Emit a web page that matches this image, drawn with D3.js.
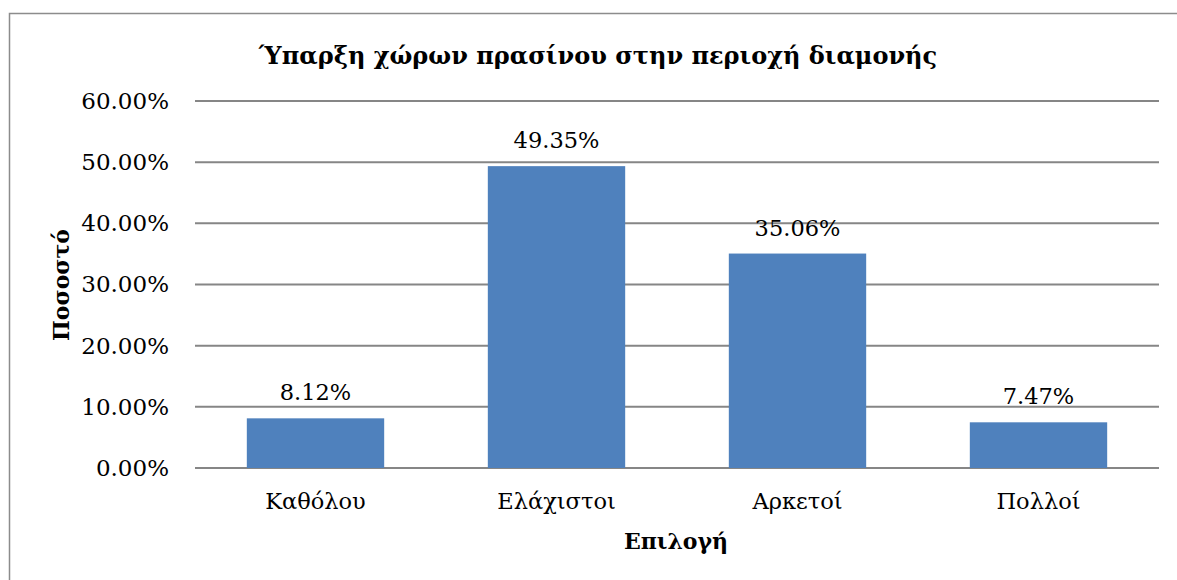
<!DOCTYPE html>
<html>
<head>
<meta charset="utf-8">
<script src="https://cdn.jsdelivr.net/npm/d3@7"></script>
<style>
  body { margin: 0; background: #fff; }
  svg { display: block; }
</style>
</head>
<body>
<svg id="chart" width="1177" height="580"></svg>
<script>
// Green space availability in area of residence
const categories = ["Καθόλου", "Ελάχιστοι", "Αρκετοί", "Πολλοί"];
const values = [8.12, 49.35, 35.06, 7.47];
const yTicks = [0, 10, 20, 30, 40, 50, 60];

const svg = d3.select("#chart");
const margin = { top: 101, right: 18, bottom: 112, left: 195 };
const width = 1177 - margin.left - margin.right;
const height = 580 - margin.top - margin.bottom;
const serif = "'DejaVu Serif', serif";

// chart frame
svg.append("rect")
  .attr("x", 9.5).attr("y", 13.5)
  .attr("width", 1200).attr("height", 600)
  .attr("fill", "none")
  .attr("stroke", "#8c8c8c")
  .attr("stroke-width", 1.5);

const g = svg.append("g").attr("transform", `translate(${margin.left},${margin.top})`);

const x = d3.scaleBand().domain(categories).range([0, width]).paddingInner(0.43).paddingOuter(0.215);
const y = d3.scaleLinear().domain([0, 60]).range([height, 0]);

// gridlines
g.append("g")
  .selectAll("line")
  .data(yTicks)
  .join("line")
  .attr("x1", 0).attr("x2", width)
  .attr("y1", d => y(d)).attr("y2", d => y(d))
  .attr("stroke", "#868686")
  .attr("stroke-width", 2);

// y axis labels
g.append("g")
  .call(d3.axisLeft(y).tickValues(yTicks).tickSize(0).tickPadding(26).tickFormat(d => d.toFixed(2) + "%"))
  .call(a => a.select(".domain").remove())
  .selectAll(".tick text")
  .style("font-family", serif)
  .style("font-size", "23px")
  .style("fill", "#000");

g.selectAll("rect.bar")
  .data(values)
  .join("rect")
  .attr("class", "bar")
  .attr("x", (d, i) => x(categories[i]))
  .attr("y", d => y(d))
  .attr("width", x.bandwidth())
  .attr("height", d => height - y(d))
  .attr("fill", "#4f81bd");

g.selectAll("text.value")
  .data(values)
  .join("text")
  .attr("class", "value")
  .attr("x", (d, i) => x(categories[i]) + x.bandwidth() / 2)
  .attr("y", d => y(d) - 18)
  .attr("text-anchor", "middle")
  .style("font-family", serif)
  .style("font-size", "22.5px")
  .text(d => d.toFixed(2) + "%");

// x axis labels
g.append("g")
  .attr("transform", `translate(0,${height})`)
  .call(d3.axisBottom(x).tickSize(0).tickPadding(25))
  .call(a => a.select(".domain").remove())
  .selectAll(".tick text")
  .style("font-family", serif)
  .style("font-size", "22.5px")
  .style("fill", "#000");

svg.append("text")
  .attr("x", 598).attr("y", 64)
  .attr("text-anchor", "middle")
  .style("font-family", serif)
  .style("font-weight", "bold")
  .style("font-size", "24px")
  .text("Ύπαρξη χώρων πρασίνου στην περιοχή διαμονής");

svg.append("text")
  .attr("transform", "translate(69,285) rotate(-90)")
  .attr("text-anchor", "middle")
  .style("font-family", serif)
  .style("font-weight", "bold")
  .style("font-size", "22px")
  .text("Ποσοστό");

svg.append("text")
  .attr("x", 676).attr("y", 549)
  .attr("text-anchor", "middle")
  .style("font-family", serif)
  .style("font-weight", "bold")
  .style("font-size", "22px")
  .text("Επιλογή");
</script>
</body>
</html>
